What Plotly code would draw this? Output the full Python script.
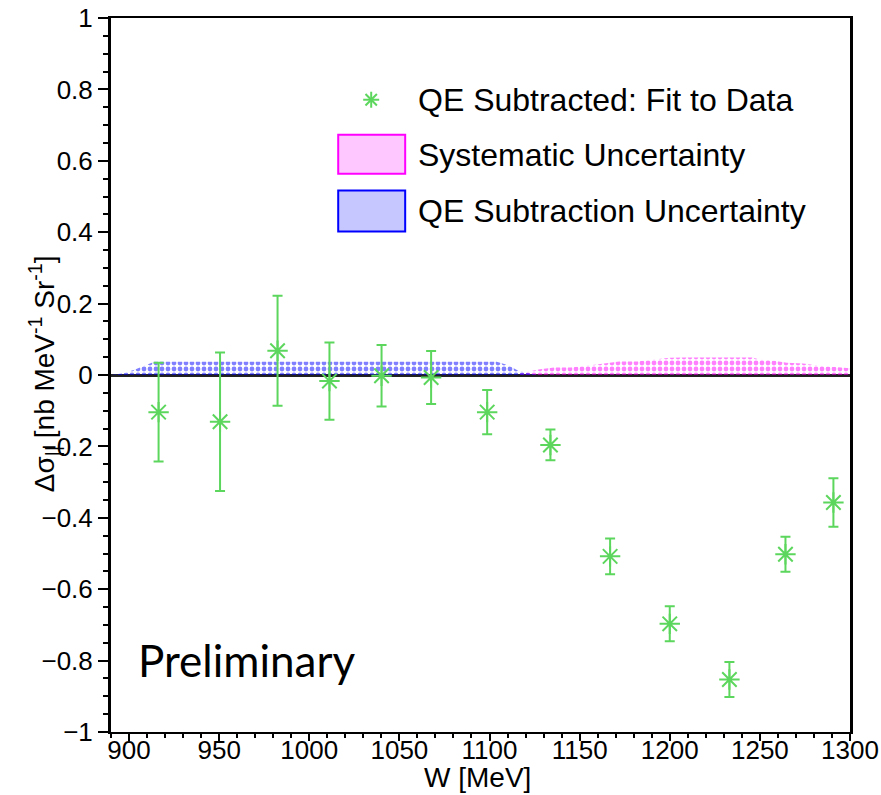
import plotly.graph_objects as go

# ---- data ----
W = [916.4, 950.5, 982.4, 1011.2, 1040.1, 1067.6, 1098.7, 1133.8, 1166.9, 1200.0, 1233.1, 1264.2, 1290.8]
dsigma = [-0.104, -0.131, 0.068, -0.017, -0.002, -0.007, -0.104, -0.196, -0.508, -0.697, -0.853, -0.502, -0.357]
err = [0.138, 0.194, 0.154, 0.108, 0.086, 0.074, 0.062, 0.043, 0.050, 0.049, 0.049, 0.049, 0.068]

qe_W = [890, 897, 903, 908, 914, 1000, 1104, 1110, 1116, 1122, 1126]
qe_unc = [0.0, 0.005, 0.015, 0.025, 0.037, 0.037, 0.037, 0.028, 0.012, 0.005, 0.0]

sys_W = [1117, 1128, 1136, 1145, 1154, 1163, 1172, 1182, 1191, 1200, 1209, 1228, 1246,
         1250, 1256, 1265, 1274, 1283, 1293, 1300]
sys_unc = [0.005, 0.016, 0.021, 0.021, 0.026, 0.031, 0.038, 0.038, 0.042, 0.048, 0.049, 0.049, 0.049,
           0.043, 0.041, 0.034, 0.032, 0.026, 0.023, 0.019]

legend_labels = ["QE Subtracted: Fit to Data", "Systematic Uncertainty", "QE Subtraction Uncertainty"]

GREEN = "#5cd65c"
PINK = "#ff00ff"
BLUE = "#0000ff"
FONT = "Liberation Sans, Arial, sans-serif"

fig = go.Figure()

fig.add_trace(go.Scatter(
    x=sys_W, y=sys_unc, mode="lines", fill="tozeroy",
    line=dict(width=0, color=PINK), fillcolor="rgba(0,0,0,0)",
    fillpattern=dict(shape=".", fgcolor=PINK, bgcolor="rgba(0,0,0,0)", size=6, solidity=0.5),
    showlegend=False, hoverinfo="skip"))

fig.add_trace(go.Scatter(
    x=qe_W, y=qe_unc, mode="lines", fill="tozeroy",
    line=dict(width=0, color=BLUE), fillcolor="rgba(0,0,0,0)",
    fillpattern=dict(shape=".", fgcolor=BLUE, bgcolor="rgba(0,0,0,0)", size=6, solidity=0.5),
    showlegend=False, hoverinfo="skip"))

fig.add_trace(go.Scatter(
    x=W, y=dsigma, mode="markers",
    marker=dict(symbol="asterisk-open", size=17, color=GREEN, line=dict(color=GREEN, width=2)),
    error_y=dict(type="data", array=err, visible=True, color=GREEN, thickness=2, width=5),
    showlegend=False))

# ---- custom legend ----
def px(x):
    return (x - 110.7) / 739.3

def py(y):
    return (732 - y) / 713.7

shapes = []
cx, cy = 371, 100
for dx, dy in [(8, 0), (0, 8), (5.7, 5.7), (5.7, -5.7)]:
    shapes.append(dict(type="line", xref="paper", yref="paper",
                       x0=px(cx - dx), y0=py(cy - dy), x1=px(cx + dx), y1=py(cy + dy),
                       line=dict(color=GREEN, width=2)))
shapes.append(dict(type="rect", xref="paper", yref="paper",
                   x0=px(338), x1=px(405), y0=py(174), y1=py(135),
                   fillcolor="rgba(255,0,255,0.22)", line=dict(color=PINK, width=2)))
shapes.append(dict(type="rect", xref="paper", yref="paper",
                   x0=px(338), x1=px(405), y0=py(231.7), y1=py(190.7),
                   fillcolor="rgba(0,0,255,0.22)", line=dict(color=BLUE, width=2)))

annotations = []
for lab, yy in zip(legend_labels, [100, 155, 211]):
    annotations.append(dict(text=lab, xref="paper", yref="paper", x=px(416), y=py(yy),
                            xanchor="left", yanchor="middle", showarrow=False,
                            font=dict(family=FONT, size=32, color="black")))

annotations.append(dict(text="Preliminary", xref="paper", yref="paper", x=px(136), y=py(660),
                        xanchor="left", yanchor="middle", showarrow=False,
                        font=dict(family="Lato, Open Sans, sans-serif", size=44, color="black")))

annotations.append(dict(text="W [MeV]", xref="paper", yref="paper", x=px(477), y=py(777),
                        xanchor="center", yanchor="middle", showarrow=False, borderpad=0,
                        font=dict(family=FONT, size=28, color="black")))

annotations.append(dict(text="Δσ<sub>||</sub> [nb MeV<sup>-1</sup> Sr<sup>-1</sup>]",
                        xref="paper", yref="paper", x=px(44), y=py(374), textangle=-90,
                        xanchor="center", yanchor="middle", showarrow=False,
                        font=dict(family=FONT, size=28, color="black")))

fig.update_layout(
    width=881, height=795,
    margin=dict(l=111, r=31, t=18, b=63, autoexpand=False),
    paper_bgcolor="white", plot_bgcolor="white",
    showlegend=False,
    shapes=shapes, annotations=annotations,
    font=dict(family=FONT, color="black"),
)

fig.update_xaxes(
    range=[890, 1300], tick0=900, dtick=50, ticks="outside", ticklen=7, tickwidth=2,
    tickcolor="black", showline=True, linecolor="black", linewidth=2, mirror=True,
    showgrid=False, zeroline=False, tickfont=dict(family=FONT, size=26), automargin=False,
    ticklabelstandoff=-13,
    minor=dict(dtick=10, ticks="outside", ticklen=4, tickcolor="black", tickwidth=1.5, showgrid=False),
)
fig.update_yaxes(
    range=[-1, 1], tick0=0, dtick=0.2, ticks="outside", ticklen=10, tickwidth=2,
    tickcolor="black", showline=True, linecolor="black", linewidth=3, mirror=True,
    showgrid=False, zeroline=True, zerolinecolor="#222222", zerolinewidth=3,
    tickfont=dict(family=FONT, size=26), automargin=False,
    minor=dict(dtick=0.05, ticks="outside", ticklen=5, tickcolor="black", tickwidth=1.5, showgrid=False),
)

fig.write_html("out.html")
